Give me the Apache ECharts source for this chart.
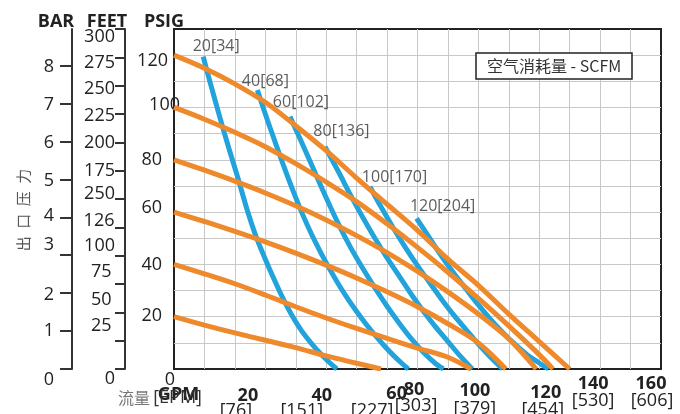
<!DOCTYPE html>
<html><head><meta charset="utf-8">
<script src="https://cdn.jsdelivr.net/npm/echarts@6/dist/echarts.min.js"></script>
<style>html,body{margin:0;padding:0;background:#fff}#c{width:680px;height:414px}</style>
</head><body><div id="c"></div>
<script>
// ---------------- DATA ----------------
const gpmTicks = [20, 40, 60, 80, 100, 120, 140, 160];
const lpmTicks = ['[76]', '[151]', '[227]', '[303]', '[379]', '[454]', '[530]', '[606]'];
const psigTicks = [0, 20, 40, 60, 80, 100, 120];
const barTicks = [0, 1, 2, 3, 4, 5, 6, 7, 8];
const feetTicks = [0, 25, 50, 75, 100, 125, 150, 175, 200, 225, 250, 275, 300];
const feetTickLabels = ['0', '25', '50', '75', '100', '126', '250', '175', '200', '225', '250', '275', '300'];
// grid line positions (every 10 GPM / every 10 psig inside the plot)
const gridGpm = [10, 20, 30, 40, 50, 60, 70, 80, 90, 100, 110, 120, 130, 140, 150];
const gridPsig = [10, 20, 30, 40, 50, 60, 70, 80, 90, 100, 110, 120];

const axisTitles = { bar: 'BAR', feet: 'FEET', psig: 'PSIG', gpm: 'GPM', flowCn: '流量', lpm: '[EPM]' };
const pressureTitle = '出口压力';
const legendTitle = '空气消耗量 - SCFM';

// Outlet pressure (psig) vs flow (GPM) at each air inlet pressure
const outlet20 = [[0,20],[10,16.8],[20,13.8],[30,11],[40,8.2],[50,5],[60,2.2],[68,0]];
const outlet40 = [[0,40],[10,36.4],[20,32.6],[30,28.3],[40,23.8],[50,19.5],[60,15.5],[70,11.7],[80,8],[90,4.5],[97.5,0]];
const outlet60 = [[0,60],[10,56.4],[20,52.6],[30,48.6],[40,44.3],[50,39.7],[60,34.8],[70,29.5],[80,23.8],[90,17.3],[100,10],[109,0]];
const outlet80 = [[0,80],[10,76],[20,71.8],[30,67.3],[40,62.4],[50,57],[60,51],[70,44.5],[80,37.3],[90,29.5],[100,21],[110,11.5],[119,0]];
const outlet100 = [[0,100],[10,95.5],[20,90.5],[30,85],[40,78.5],[50,71.5],[60,64],[70,55.5],[80,46.5],[90,37],[100,27],[110,16.5],[120,5.5],[124.5,0]];
const outlet120 = [[0,120],[10,115],[20,109],[30,102],[40,93],[50,83.5],[60,73],[70,63],[80,53],[90,42],[100,32],[110,21],[120,10.5],[130,0]];

// Air consumption curves (SCFM)
const scfmLabels = ['20[34]', '40[68]', '60[102]', '80[136]', '100[170]', '120[204]'];
const scfm20 = [[9.6,119.4],[12,109],[15,96.5],[18,84.5],[21,73],[24,61],[27,50.5],[30,42],[33,34],[36,26.5],[39,20],[42,14.5],[45,10],[48,6],[51,2.6],[53.5,0]];
const scfm40 = [[27.4,106.7],[30,97.5],[33,87.5],[36,77.8],[39,68.5],[42,59.8],[45,52],[48,45],[51,38.5],[54,32.5],[57,27],[60,22],[63,17.3],[66,13],[69,9],[72,5.3],[75,2],[77,0]];
const scfm60 = [[38.1,96.5],[42,86.5],[46,76],[50,65.5],[54,55.5],[58,46.5],[62,38.5],[66,31],[70,24],[74,17.5],[78,11.5],[82,6.3],[86,2],[88.5,0]];
const scfm80 = [[49.6,85],[54,75.5],[58,66.5],[62,58],[66,50],[70,42.5],[74,35.5],[78,28.5],[82,22],[86,16],[90,10.5],[94,5],[98,0]];
const scfm100 = [[64.4,69.7],[68,62],[72,54],[76,46.5],[80,39.5],[84,33],[88,26.5],[92,20.5],[96,15],[100,9.5],[104,4.5],[108,0]];
const scfm120 = [[79.7,57.6],[84,50],[88,43],[92,36.5],[96,30.5],[100,24.5],[104,19],[108,14],[112,9.5],[116,5.5],[120,2.3],[123,0]];

// ---------------- LAYOUT / STYLE ----------------
const PSIG_MAX = 130, GPM_MAX = 160, FEET_MAX = 300, PSI_PER_BAR = 14.5038;
const FONT = '"Open Sans", "Noto Sans CJK SC", sans-serif';
const CJK = '"Noto Sans CJK SC", sans-serif';
const ORANGE = '#EE8A2C', BLUE = '#22A3DB', INK = '#222', GRIDC = '#c8c8c8';
const xBoldNudge = [[13,18.3],[26,18.3],[40,16.3],[-3.5,12.3],[-3.5,13.3],[6.5,15.3],[-7,6.3],[-10,6.3]];
const xBracketNudge = [[1,32.5],[6,32.5],[15.5,32.5],[-1.5,27.5],[-3.5,30.5],[3.5,31.5],[-7,22.5],[-9,22.5]];
const psigNudge = [[5,10.8],[18,-0.4],[18,0.4],[18,-4.1],[18,-0.2],[0,-2.7],[12,6.1]];
const barNudge = [[0,10.8],[0,0.3],[0,1.7],[0,-10.4],[0,-1],[0,1.9],[0,1.4],[0,1.3],[0,1.3]];
const feetNudge = [[0,10.3],[3.5,-14.4],[3.5,-12.5],[3.5,-12.2],[0,-9.4],[0.5,-6],[0,-5.2],[0,0.6],[0,0.5],[0,2.3],[0,3.6],[0,5.5],[0,8.3]];
const blueLabelOffset = [[13,-10.6],[8,-8.9],[11,-13.9],[16.5,-15.6],[24.5,-8.9],[26,-11.9]];

function yPad(n) { const pr = n[0], s = n[1]; return [s > 0 ? 2 * s : 0, pr, s < 0 ? -2 * s : 0, 0]; }
function xPad(n) { const dx = n[0], pt = n[1]; return [pt, dx < 0 ? -2 * dx : 0, 0, dx > 0 ? 2 * dx : 0]; }
function richFor(prefix, nudges, base, padFn) {
  const r = {};
  nudges.forEach((n, i) => { r[prefix + i] = Object.assign({}, base, { padding: padFn(n) }); });
  return r;
}
function findIdx(arr, v) { return arr.findIndex(t => Math.abs(t - v) < 1e-6); }

const labelBase = { fontSize: 18, color: INK, fontFamily: FONT };
const nameStyle = { fontSize: 18, fontWeight: 'bold', color: INK, fontFamily: FONT };

const chart = echarts.init(document.getElementById('c'));

const blues = [scfm20, scfm40, scfm60, scfm80, scfm100, scfm120];
const oranges = [outlet20, outlet40, outlet60, outlet80, outlet100, outlet120];

const series = [];
// grid lines, placed through the axes' own scales, drawn beneath the curves
series.push({
  type: 'line', xAxisIndex: 0, yAxisIndex: 0, silent: true, symbol: 'none', data: [],
  lineStyle: { width: 0 },
  markLine: {
    silent: true, z: 1, symbol: ['none', 'none'], animation: false,
    label: { show: false }, emphasis: { disabled: true },
    lineStyle: { color: GRIDC, width: 1, type: 'solid' },
    data: gridGpm.map(v => ({ xAxis: v })).concat(gridPsig.map(v => ({ yAxis: v })))
  }
});
blues.forEach((d) => {
  series.push({ type: 'line', xAxisIndex: 0, yAxisIndex: 0, silent: true, smooth: 0.35, symbol: 'none',
    lineStyle: { color: BLUE, width: 5 }, data: d });
});
oranges.forEach((d) => {
  series.push({ type: 'line', xAxisIndex: 0, yAxisIndex: 0, silent: true, smooth: 0.35, symbol: 'none',
    lineStyle: { color: ORANGE, width: 5 }, data: d });
});
// curve name labels anchored at the first point of each air-consumption curve
series.push({
  type: 'scatter', xAxisIndex: 0, yAxisIndex: 0, silent: true, symbol: 'circle', symbolSize: 1,
  itemStyle: { color: 'rgba(0,0,0,0)' },
  data: blues.map((d, i) => ({
    value: d[0], name: scfmLabels[i],
    label: { show: true, position: 'inside', formatter: scfmLabels[i], offset: blueLabelOffset[i],
             fontSize: 16, color: '#333', fontFamily: FONT }
  }))
});

const option = {
  animation: false,
  backgroundColor: '#fff',
  textStyle: { fontFamily: FONT },
  title: {
    text: legendTitle, left: 476, top: 53, padding: [5, 11, 5, 11],
    backgroundColor: '#fff', borderColor: '#222', borderWidth: 1.5,
    textStyle: { fontSize: 16, fontWeight: 'normal', color: '#333', fontFamily: CJK }
  },
  grid: { left: 174, right: 19, top: 29, bottom: 45, show: true, backgroundColor: 'rgba(0,0,0,0)',
          borderColor: '#222', borderWidth: 2, outerBoundsMode: 'none' },
  xAxis: [
    {
      type: 'value', position: 'bottom', min: 0, max: GPM_MAX, interval: 10,
      name: axisTitles.gpm, nameLocation: 'start', nameGap: -4.5, nameMoveOverlap: false,
      nameTextStyle: Object.assign({}, nameStyle, { align: 'center', verticalAlign: 'top', padding: [17, 0, 0, 0] }),
      axisLine: { show: true, onZero: false, lineStyle: { color: INK, width: 2 } },
      axisTick: { show: false },
      splitLine: { show: false },
      axisLabel: {
        margin: 0,
        formatter: v => { const i = findIdx(gpmTicks, v); return i < 0 ? '' : '{g' + i + '|' + gpmTicks[i] + '}'; },
        rich: richFor('g', xBoldNudge, Object.assign({}, labelBase, { fontWeight: 'bold' }), xPad)
      }
    },
    {
      type: 'value', position: 'bottom', min: 0, max: GPM_MAX, interval: 10,
      name: '{a|' + axisTitles.flowCn + '} {b|' + axisTitles.lpm + '}', nameLocation: 'start', nameGap: -28, nameMoveOverlap: false,
      nameTextStyle: { align: 'right', verticalAlign: 'top', padding: [20, 0, 0, 0],
        rich: { a: { fontSize: 16, color: '#777', fontFamily: CJK },
                b: { fontSize: 18, color: '#333', fontFamily: FONT } } },
      axisLine: { show: false }, axisTick: { show: false }, splitLine: { show: false },
      axisLabel: {
        margin: 0,
        formatter: v => { const i = findIdx(gpmTicks, v); return i < 0 ? '' : '{k' + i + '|' + lpmTicks[i] + '}'; },
        rich: richFor('k', xBracketNudge, labelBase, xPad)
      }
    }
  ],
  yAxis: [
    {
      type: 'value', position: 'left', min: 0, max: PSIG_MAX, interval: 10,
      name: axisTitles.psig, nameLocation: 'end', nameGap: -2, nameMoveOverlap: false,
      nameTextStyle: Object.assign({}, nameStyle, { padding: [0, 20, 0, 0] }),
      axisLine: { show: true, onZero: false, lineStyle: { color: INK, width: 2 } },
      axisTick: { show: false },
      splitLine: { show: false },
      axisLabel: {
        margin: -6,
        formatter: v => { const i = findIdx(psigTicks, v); return i < 0 ? '' : '{p' + i + '|' + psigTicks[i] + '}'; },
        rich: richFor('p', psigNudge, labelBase, yPad)
      }
    },
    {
      type: 'value', position: 'left', offset: 102, min: 0, max: PSIG_MAX / PSI_PER_BAR, interval: 1,
      name: axisTitles.bar, nameLocation: 'end', nameGap: -2, nameMoveOverlap: false,
      nameTextStyle: Object.assign({}, nameStyle, { padding: [0, 32, 0, 0] }),
      axisLine: { show: true, onZero: false, lineStyle: { color: '#333', width: 2 } },
      axisTick: { show: true, inside: false, length: 12, customValues: barTicks, lineStyle: { color: '#333', width: 2 } },
      splitLine: { show: false },
      axisLabel: {
        margin: 18, customValues: barTicks,
        formatter: v => { const i = findIdx(barTicks, v); return i < 0 ? '' : '{b' + i + '|' + barTicks[i] + '}'; },
        rich: richFor('b', barNudge, labelBase, yPad)
      }
    },
    {
      type: 'value', position: 'left', offset: 49, min: 0, max: FEET_MAX, interval: 25,
      name: axisTitles.feet, nameLocation: 'end', nameGap: -2, nameMoveOverlap: false,
      nameTextStyle: Object.assign({}, nameStyle, { padding: [0, 36, 0, 0] }),
      axisLine: { show: true, onZero: false, lineStyle: { color: '#333', width: 2 } },
      axisTick: { show: true, inside: false, length: 10, lineStyle: { color: '#333', width: 2 } },
      splitLine: { show: false },
      axisLabel: {
        margin: 10,
        formatter: v => { const i = findIdx(feetTicks, v); return i < 0 ? '' : '{f' + i + '|' + feetTickLabels[i] + '}'; },
        rich: richFor('f', feetNudge, labelBase, yPad)
      }
    },
    {
      // carries only the rotated outlet-pressure title
      type: 'value', position: 'left', offset: 102, min: 0, max: PSIG_MAX,
      name: pressureTitle.split('').join('\u2002'), nameLocation: 'middle', nameRotate: 90, nameGap: 41.5, nameMoveOverlap: false,
      nameTextStyle: { fontSize: 15, color: '#555', fontFamily: CJK, padding: [0, 22, 0, 0] },
      axisLine: { show: false }, axisTick: { show: false }, axisLabel: { show: false }, splitLine: { show: false }
    }
  ],
  series: series
};
chart.setOption(option);
</script>
</body></html>
